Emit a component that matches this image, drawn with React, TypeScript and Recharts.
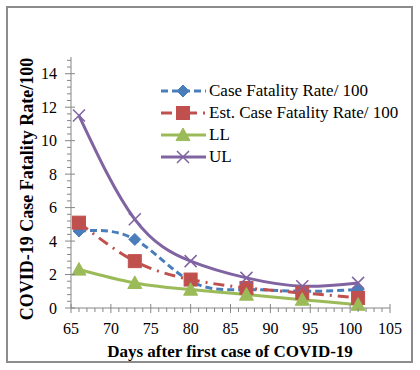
import React from "react"
import { LineChart, Line, XAxis, YAxis, Legend } from "recharts"

// days after first case (x) and the four series
const days = [66, 73, 80, 87, 94, 101]
const caseFatality = [4.6, 4.1, 1.6, 1.1, 1.0, 1.1]
const estCaseFatality = [5.1, 2.8, 1.7, 1.2, 0.9, 0.6]
const lowerLimit = [2.3, 1.5, 1.1, 0.8, 0.5, 0.2]
const upperLimit = [11.5, 5.3, 2.8, 1.8, 1.3, 1.5]

const xLabels = [65, 70, 75, 80, 85, 90, 95, 100, 105]
const yLabels = [0, 2, 4, 6, 8, 10, 12, 14]

const data = days.map((d, i) => ({
  day: d,
  cfr: caseFatality[i],
  est: estCaseFatality[i],
  ll: lowerLimit[i],
  ul: upperLimit[i],
}))

// minor tick positions (Excel style: major / 5)
const xTicks: number[] = []
for (let v = 65; v <= 105; v += 1) xTicks.push(v)
const yTicks: number[] = []
for (let k = 0; k <= 37; k++) yTicks.push(Math.round(k * 0.4 * 10) / 10)

const FONT = "'Liberation Serif', 'Times New Roman', serif"
const AXIS = "#868686"

const series = [
  { key: "cfr", name: "Case Fatality Rate/ 100", color: "#4a7ebb", dash: "7 4", shape: "diamond" },
  { key: "est", name: "Est. Case Fatality Rate/ 100", color: "#c0504d", dash: "11 6 2 6", shape: "square" },
  { key: "ll", name: "LL", color: "#9bbb59", dash: undefined, shape: "triangle" },
  { key: "ul", name: "UL", color: "#8064a2", dash: undefined, shape: "cross" },
]

function Marker({ shape, cx, cy, color }: { shape: string; cx: number; cy: number; color: string }) {
  if (cx == null || cy == null) return null
  if (shape === "diamond") {
    const r = 6
    return <path d={`M${cx},${cy - r}L${cx + r},${cy}L${cx},${cy + r}L${cx - r},${cy}Z`} fill={color} stroke={color} />
  }
  if (shape === "square") {
    const r = 6.5
    return <rect x={cx - r} y={cy - r} width={r * 2} height={r * 2} fill={color} stroke={color} />
  }
  if (shape === "triangle") {
    const r = 7
    return <path d={`M${cx},${cy - r}L${cx + r},${cy + r * 0.8}L${cx - r},${cy + r * 0.8}Z`} fill={color} stroke={color} />
  }
  const r = 6
  return (
    <path
      d={`M${cx - r},${cy - r}L${cx + r},${cy + r}M${cx - r},${cy + r}L${cx + r},${cy - r}`}
      stroke={color}
      strokeWidth={1.5}
      fill="none"
    />
  )
}

function XTick(props: any) {
  const { x, y, payload } = props
  const v = payload.value
  const major = xLabels.includes(v)
  return (
    <g>
      <line x1={x} x2={x} y1={major ? y - 4 : y} y2={y + (major ? 5 : 4)} stroke={AXIS} />
      {major && (
        <text x={x} y={y + 26} textAnchor="middle" fontFamily={FONT} fontSize={16} fill="#000">
          {v}
        </text>
      )}
    </g>
  )
}

function YTick(props: any) {
  const { x, y, payload } = props
  const v = payload.value
  const major = yLabels.some((t) => Math.abs(t - v) < 1e-6)
  return (
    <g>
      <line x1={major ? x - 6 : x - 4} x2={major ? x + 4 : x} y1={y} y2={y} stroke={AXIS} />
      {major && (
        <text x={x - 14} y={y + 5.5} textAnchor="end" fontFamily={FONT} fontSize={16} fill="#000">
          {v}
        </text>
      )}
    </g>
  )
}

function renderLegend() {
  return (
    <div style={{ fontFamily: FONT, fontSize: 17, color: "#000", lineHeight: "22px" }}>
      {series.map((s) => (
        <div key={s.key} style={{ display: "flex", alignItems: "center", height: 22 }}>
          <svg width={48} height={20} style={{ display: "block" }}>
            <line x1={1} x2={46} y1={10} y2={10} stroke={s.color} strokeWidth={3} strokeDasharray={s.dash} />
            <Marker shape={s.shape} cx={23} cy={10} color={s.color} />
          </svg>
          <span style={{ marginLeft: 1, whiteSpace: "nowrap" }}>{s.name}</span>
        </div>
      ))}
    </div>
  )
}

export default function App() {
  return (
    <div style={{ position: "absolute", left: 0, top: 0, width: 420, height: 370, background: "#fff" }}>
      <div
        style={{
          position: "absolute",
          left: 6,
          top: 6,
          width: 407,
          height: 357,
          border: "2px solid #8c8c8c",
          boxSizing: "border-box",
        }}
      />
      <LineChart
        width={420}
        height={370}
        data={data}
        margin={{ top: 57, right: 30, left: 0, bottom: 0 }}
        style={{ position: "absolute", left: 0, top: 0 }}
      >
        <XAxis
          dataKey="day"
          type="number"
          domain={[65, 105]}
          ticks={xTicks}
          interval={0}
          height={62}
          tickSize={0}
          tickMargin={0}
          tickLine={false}
          tick={<XTick />}
          stroke={AXIS}
          label={{
            content: () => (
              <text x={230} y={357} textAnchor="middle" fontFamily={FONT} fontSize={17} fontWeight="bold" fill="#000">
                Days after first case of COVID-19
              </text>
            ),
          }}
        />
        <YAxis
          type="number"
          domain={[0, 15]}
          ticks={yTicks}
          interval={0}
          width={71}
          tickSize={0}
          tickMargin={0}
          tickLine={false}
          tick={<YTick />}
          stroke={AXIS}
          label={{
            content: () => (
              <text
                x={27}
                y={189}
                transform="rotate(-90 27 189)"
                dy={6}
                textAnchor="middle"
                fontFamily={FONT}
                fontSize={18}
                fontWeight="bold"
                fill="#000"
              >
                COVID-19 Case Fatality Rate/100
              </text>
            ),
          }}
        />
        <Legend
          layout="vertical"
          align="center"
          verticalAlign="middle"
          content={renderLegend}
          wrapperStyle={{ position: "absolute", left: 160, top: 80, width: 255 }}
        />
        {series.map((s) => (
          <Line
            key={s.key}
            dataKey={s.key}
            name={s.name}
            type="natural"
            stroke={s.color}
            strokeWidth={3}
            strokeDasharray={s.dash}
            isAnimationActive={false}
            dot={(p: any) => <Marker key={`${s.key}-${p.index}`} shape={s.shape} cx={p.cx} cy={p.cy} color={s.color} />}
            activeDot={false}
          />
        ))}
      </LineChart>
    </div>
  )
}
